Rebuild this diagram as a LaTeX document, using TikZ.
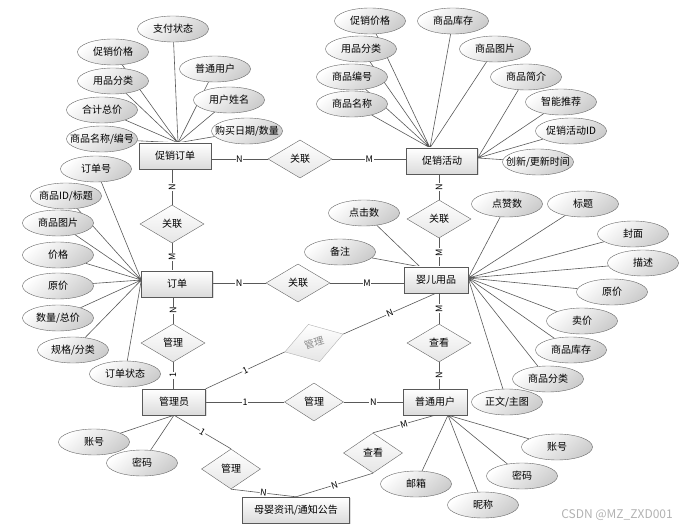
\documentclass[tikz,border=0pt]{standalone}
\usepackage{fontspec}
\setmainfont{Noto Sans CJK SC}
\usetikzlibrary{shapes.geometric,shadows,backgrounds}
\newcommand{\attrtext}[1]{\makebox[0pt]{#1}}

\begin{document}
\begin{tikzpicture}[x=1pt,y=-1pt,font=\fontsize{10}{12}\selectfont,
  entity/.style={draw=black!65,top color=white,bottom color=black!14,minimum width=71pt,minimum height=26pt,inner sep=1pt,drop shadow={opacity=.25,shadow xshift=1.2pt,shadow yshift=-1.2pt}},
  attr/.style={ellipse,draw=black!60,top color=white,bottom color=black!20,shading angle=40,minimum width=71pt,minimum height=26pt,inner sep=0pt},
  rel/.style={diamond,draw=black!60,top color=white,bottom color=black!10,minimum width=64pt,minimum height=38pt,inner sep=0pt},
  link/.style={draw=black!65,line width=.6pt},
  card/.style={fill=white,inner sep=.6pt,font=\fontsize{9}{9}\selectfont}]
\useasboundingbox (0,0) rectangle (685,529);

\node[entity,minimum width=72pt] (porder) at (175,156) {促销订单};
\node[entity] (pact) at (442,161) {促销活动};
\node[entity] (order) at (177,284) {订单};
\node[entity,minimum width=64pt] (baby) at (436,280) {婴儿用品};
\node[entity,minimum width=64pt] (user) at (435,402) {普通用户};
\node[entity,minimum width=63pt] (admin) at (174,402) {管理员};
\node[entity,minimum width=107pt] (news) at (296,510) {母婴资讯/通知公告};

\node[rel] (r1) at (300,159) {关联};
\node[rel] (r2) at (172,224) {关联};
\node[rel] (r3) at (298,283) {关联};
\node[rel] (r4) at (439,219) {关联};
\node[rel] (r5) at (173,343) {管理};
\node[rel,draw=black!30,text=black!45,minimum width=61pt,minimum height=39pt,rotate=17] (r6) at (314,343) {管理};
\node[rel] (r7) at (439,343) {查看};
\node[rel,minimum width=59pt] (r8) at (314,402) {管理};
\node[rel,minimum width=59pt,minimum height=40pt] (r9) at (231,469) {管理};
\node[rel,minimum width=59pt,minimum height=40pt] (r10) at (373,453) {查看};

\coordinate (pohub) at ([xshift=3pt]porder.north);
\coordinate (ordhub) at ([yshift=4pt]order.west);
\coordinate (acthub) at ([xshift=-12pt]pact.north);
\coordinate (actehub) at ([yshift=3pt]pact.east);
\coordinate (babyhub) at ([yshift=2pt]baby.east);
\coordinate (babynhub) at ([xshift=-16pt]baby.north);
\coordinate (userhub) at ([xshift=13pt]user.south);

\node[attr] (pay) at (173,29) {支付状态};
\node[attr] (poprice) at (113,52) {促销价格};
\node[attr] (pouser) at (215,69) {普通用户};
\node[attr] (pocat) at (113,81) {用品分类};
\node[attr] (poname) at (229,100) {用户姓名};
\node[attr] (pototal) at (102,110) {合计总价};
\node[attr] (podate) at (247,131) {\attrtext{购买日期/数量}};
\node[attr] (pogoods) at (102,139) {\attrtext{商品名称/编号}};

\node[attr] (ono) at (96,169) {订单号};
\node[attr] (otitle) at (66,196) {\attrtext{商品ID/标题}};
\node[attr] (opic) at (58,223) {商品图片};
\node[attr] (oprice) at (58,255) {价格};
\node[attr] (oorig) at (58,286) {原价};
\node[attr] (oqty) at (58,318) {数量/总价};
\node[attr] (ospec) at (73,350) {规格/分类};
\node[attr] (ostate) at (125,374) {订单状态};

\node[attr] (aprice) at (370,21) {促销价格};
\node[attr] (astock) at (453,21) {商品库存};
\node[attr] (acat) at (361,49) {用品分类};
\node[attr] (apic) at (495,49) {商品图片};
\node[attr] (ano) at (352,77) {商品编号};
\node[attr] (aintro) at (526,77) {商品简介};
\node[attr] (aname) at (352,104) {商品名称};
\node[attr] (asmart) at (561,102) {智能推荐};
\node[attr] (aid) at (571,131) {促销活动ID};
\node[attr] (atime) at (538,162) {\attrtext{创新/更新时间}};

\node[attr] (bclick) at (364,213) {点击数};
\node[attr] (bnote) at (340,252) {备注};
\node[attr] (blike) at (507,204) {点赞数};
\node[attr] (btitle) at (583,204) {标题};
\node[attr] (bcover) at (633,234) {封面};
\node[attr] (bdesc) at (643,263) {描述};
\node[attr] (borig) at (612,292) {原价};
\node[attr] (bsale) at (582,321) {卖价};
\node[attr] (bstock) at (571,350) {商品库存};
\node[attr] (bcat) at (548,379) {商品分类};
\node[attr] (bbody) at (507,402) {正文/主图};

\node[attr] (uacc) at (557,447) {账号};
\node[attr] (upwd) at (522,476) {密码};
\node[attr] (unick) at (483,505) {昵称};
\node[attr] (umail) at (416,484) {邮箱};

\node[attr] (macc) at (94,442) {账号};
\node[attr] (mpwd) at (142,463) {密码};

\node[text=black!30,font=\fontsize{12}{12}\selectfont] (mark) at (617,515) {CSDN @MZ\_ZXD001};

\begin{scope}[on background layer]
\draw[link] (porder.east |- r1) -- node[card]{N} (r1.west);
\draw[link] (r1.east) -- node[card]{M} (r1 -| pact.west);
\draw[link] (r2 |- porder.south) -- node[card,rotate=90]{N} (r2.north);
\draw[link] (r2.south) -- node[card,rotate=90]{M} (r2 |- order.north);
\draw[link] (order.east |- r3) -- node[card]{N} (r3.west);
\draw[link] (r3.east) -- node[card]{M} (r3 -| baby.west);
\draw[link] (r4 |- pact.south) -- node[card,rotate=90]{N} (r4.north);
\draw[link] (r4.south) -- node[card,rotate=90]{M} (r4 |- baby.north);
\draw[link] (r5 |- order.south) -- node[card,rotate=90]{N} (r5.north);
\draw[link] (r5.south) -- node[card,rotate=90]{1} (r5 |- admin.north);
\draw[link] (admin.north east) -- node[card,sloped]{1} (r6.west);
\draw[link] (r6.east) -- node[card,sloped]{N} (baby.south);
\draw[link] (r7 |- baby.south) -- node[card,rotate=90]{M} (r7.north);
\draw[link] (r7.south) -- node[card,rotate=90]{N} (r7 |- user.north);
\draw[link] (admin.east) -- node[card]{1} (r8.west);
\draw[link] (r8.east) -- node[card]{N} (user.west);
\draw[link] (admin.south) -- node[card,sloped]{1} (r9.north);
\draw[link] (r9.south) -- node[card,sloped]{N} (news.north);
\draw[link] (user.south) -- node[card,sloped]{M} (r10.north);
\draw[link] (r10.south) -- node[card,sloped]{N} (news.north);

\draw[link] (pay) -- (pohub) (poprice) -- (pohub) (pouser) -- (pohub) (pocat) -- (pohub);
\draw[link] (poname) -- (pohub) (pototal) -- (pohub) (podate) -- (pohub) (pogoods) -- (pohub);
\draw[link] (ono) -- (ordhub) (otitle) -- (ordhub) (opic) -- (ordhub) (oprice) -- (ordhub);
\draw[link] (oorig) -- (ordhub) (oqty) -- (ordhub) (ospec) -- (ordhub) (ostate) -- (ordhub);
\draw[link] (aprice) -- (acthub) (astock) -- (acthub) (acat) -- (acthub) (apic) -- (acthub) (ano) -- (acthub) (aname) -- (acthub);
\draw[link] (aintro) -- (actehub) (asmart) -- (actehub) (aid) -- (actehub) (atime) -- (actehub);
\draw[link] (bclick) -- (babynhub) (bnote) -- (babynhub);
\draw[link] (blike) -- (babyhub) (btitle) -- (babyhub) (bcover) -- (babyhub) (bdesc) -- (babyhub) (borig) -- (babyhub) (bsale) -- (babyhub);
\draw[link] (bstock) -- (babyhub) (bcat) -- (babyhub) (bbody) -- (babyhub);
\draw[link] (uacc) -- (userhub) (upwd) -- (userhub) (unick) -- (userhub) (umail) -- (userhub);
\draw[link] (macc) -- (admin.south) (mpwd) -- (admin.south);
\end{scope}
\end{tikzpicture}
\end{document}
